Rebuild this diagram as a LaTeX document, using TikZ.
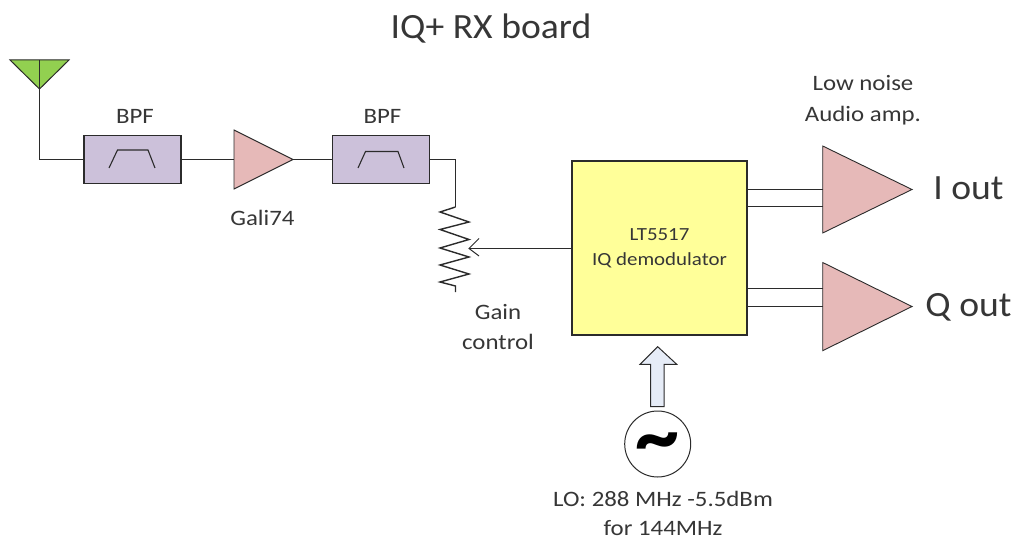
\documentclass[tikz,border=0pt]{standalone}
\usepackage{fontspec}
\setmainfont{Carlito}
\newfontfamily\widefont[FakeStretch=1.13]{Carlito}
\newfontfamily\bigfont[FakeStretch=1.06]{Carlito}
\definecolor{txt}{HTML}{363636}
\definecolor{edge}{HTML}{2B2B2B}
\definecolor{filt}{HTML}{CCC1DA}
\definecolor{ampc}{HTML}{E6B9B8}
\definecolor{yel}{HTML}{FFFF99}
\definecolor{ant}{HTML}{92D050}
\definecolor{loarrow}{HTML}{E6ECF7}
\tikzset{
 x=1pt,y=-1pt,
 wire/.style={draw=edge,line width=1.4pt,line join=miter},
 thin wire/.style={draw=edge,line width=1pt},
 filterbox/.style={draw=edge,line width=1.3pt,fill=filt,minimum width=97pt,minimum height=48.5pt,inner sep=0pt},
 ampshape/.style={draw=edge,line width=0.9pt,fill=ampc,line join=miter},
 lbl/.style={text=txt,align=center,inner sep=0pt,font=\widefont\fontsize{22}{30.5}\selectfont},
 big/.style={text=txt,inner sep=0pt,font=\bigfont\fontsize{35.5}{40}\selectfont},
}
\begin{document}
\begin{tikzpicture}
\useasboundingbox (0,0) rectangle (1015,540);
\node[big] (title) at (491,28.5) {IQ+ RX board};
% antenna
\draw[draw=edge,line width=1pt,fill=ant,line join=miter] (10,60) -- (69,60) -- (39.5,89) -- cycle;
\coordinate (antbase) at (39.5,60);
\coordinate (antcorner) at (39.5,159.5);
% filters
\node[filterbox] (bpfa) at (132.5,159.5) {};
\node[filterbox] (bpfb) at (381.3,159.5) {};
\draw[wire] (antbase) -- (antcorner) -- (bpfa.west);
\draw[wire,line width=1.1pt] (109,168) -- (117.5,150) -- (148,150) -- (155,168);
\draw[wire,line width=1.1pt] (358,168) -- (365.5,151.5) -- (398,151.5) -- (404,168);
\node[lbl] (bpfalabel) at (135,116) {BPF};
\node[lbl] (bpfblabel) at (382.5,116) {BPF};
% amp
\draw[ampshape] (234,130) -- (293,159.5) -- (234,189) -- cycle;
\coordinate (ampin) at (234,159.5);
\coordinate (ampout) at (293,159.5);
\draw[wire] (bpfa.east) -- (ampin);
\draw[wire] (ampout) -- (bpfb.west);
\node[lbl] (gali) at (262.5,218) {Gali74};
% resistor
\coordinate (rtop) at (455.5,207);
\coordinate (rcorner) at (455.5,159.5);
\coordinate (rend) at (455.5,292);
\draw[wire] (bpfb.east) -- (rcorner) -- (rtop);
\draw[wire,line join=miter] (rtop) -- (440,212) -- (469,222) -- (440,229.5) -- (469,239.5) -- (440,248) -- (469,257) -- (440,265) -- (469,274) -- (440,282) -- (455.5,286) -- (rend);
% demod
\node[draw=edge,line width=1.3pt,fill=yel,minimum width=175pt,minimum height=174pt,inner sep=0pt] (demod) at (659.5,248) {};
\node[inner sep=0pt,align=center,text=txt,font=\widefont\fontsize{18.5}{25}\selectfont] (demodlabel) at (659.5,248.5) {LT5517\\IQ demodulator};
\coordinate (wiper) at (469,248.5);
\draw[thin wire] (demod.west |- wiper) -- (wiper);
\draw[thin wire] (479,238.5) -- (wiper) -- (479,256);
\node[lbl] (gain) at (498,327) {Gain\\control};
% output amps
\draw[ampshape] (822.7,146) -- (912,189.5) -- (822.7,233) -- cycle;
\draw[ampshape] (822.7,262.5) -- (912,306.5) -- (822.7,350.7) -- cycle;
\coordinate (ia) at (822.7,189.5);
\coordinate (ib) at (822.7,206.5);
\coordinate (qa) at (822.7,288.5);
\coordinate (qb) at (822.7,306.5);
\draw[wire] (demod.east |- ia) -- (ia);
\draw[wire] (demod.east |- ib) -- (ib);
\draw[wire] (demod.east |- qa) -- (qa);
\draw[wire] (demod.east |- qb) -- (qb);
\node[lbl] (lna) at (863,100) {Low noise\\Audio amp.};
\node[big] (iout) at (968.5,188.5) {I out};
\node[big] (qout) at (968.5,307.5) {Q out};
% LO
\draw[draw=edge,line width=1pt,fill=loarrow,line join=miter] (657.7,346.7) -- (676.7,364.3) -- (664,364.3) -- (664,406.7) -- (650.7,406.7) -- (650.7,364.3) -- (640,364.3) -- cycle;
\node[circle,draw=edge,line width=1pt,minimum size=66pt,inner sep=0pt,fill=white] (lo) at (657.7,444) {};
\node[inner sep=0pt,text=black,font=\fontsize{88}{88}\bfseries\selectfont] (tilde) at (657.7,449) {\char"7E};
\node[lbl,font=\widefont\fontsize{22}{29}\selectfont] (lolabel) at (663,513.5) {LO: 288 MHz -5.5dBm\\for 144MHz};
\end{tikzpicture}
\end{document}
